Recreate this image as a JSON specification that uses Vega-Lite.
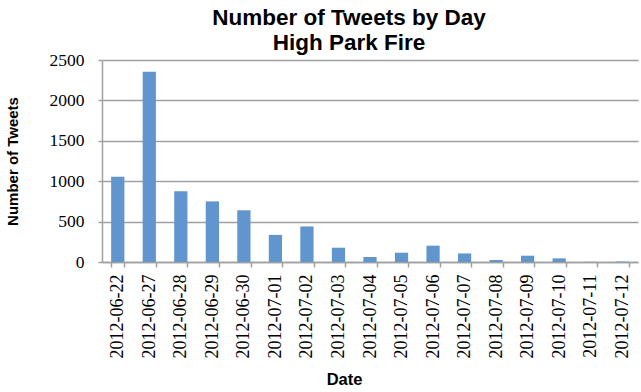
{
  "$schema": "https://vega.github.io/schema/vega-lite/v6.json",
  "autosize": {"type": "none"},
  "width": 536,
  "height": 202,
  "padding": {"left": 102, "top": 60, "right": 3, "bottom": 130},
  "background": "white",
  "config": {"view": {"stroke": null}},
  "title": {
    "text": ["Number of Tweets by Day", "High Park Fire"],
    "font": "Liberation Sans",
    "fontSize": 22.5,
    "fontWeight": "bold",
    "color": "black",
    "lineHeight": 25,
    "anchor": "middle",
    "dx": -21,
    "offset": -3
  },
  "data": {
    "values": [
      {"date": "2012-06-22", "tweets": 1055},
      {"date": "2012-06-27", "tweets": 2355},
      {"date": "2012-06-28", "tweets": 875},
      {"date": "2012-06-29", "tweets": 750},
      {"date": "2012-06-30", "tweets": 640},
      {"date": "2012-07-01", "tweets": 335},
      {"date": "2012-07-02", "tweets": 440},
      {"date": "2012-07-03", "tweets": 177},
      {"date": "2012-07-04", "tweets": 62},
      {"date": "2012-07-05", "tweets": 115},
      {"date": "2012-07-06", "tweets": 202},
      {"date": "2012-07-07", "tweets": 106},
      {"date": "2012-07-08", "tweets": 25},
      {"date": "2012-07-09", "tweets": 78},
      {"date": "2012-07-10", "tweets": 45},
      {"date": "2012-07-11", "tweets": 2},
      {"date": "2012-07-12", "tweets": 5}
    ]
  },
  "mark": {"type": "bar", "color": "#6096cd"},
  "encoding": {
    "x": {
      "field": "date",
      "type": "nominal",
      "sort": null,
      "title": "Date",
      "scale": {"paddingInner": 0.58, "paddingOuter": 0.29},
      "axis": {
        "labelAngle": -90,
        "labelFont": "Liberation Serif",
        "labelFontWeight": "normal",
        "labelFontSize": 18,
        "labelColor": "black",
        "labelPadding": 7,
        "tickBand": "extent",
        "tickSize": 5,
        "tickColor": "#a0a0a0",
        "tickWidth": 1.5,
        "domainColor": "#a0a0a0",
        "domainWidth": 1.5,
        "grid": false,
        "titleFont": "Liberation Sans",
        "titleFontSize": 16.5,
        "titleFontWeight": "bold",
        "titleColor": "black",
        "titlePadding": 14,
        "titleX": 242
      }
    },
    "y": {
      "field": "tweets",
      "type": "quantitative",
      "title": "Number of Tweets",
      "scale": {"domain": [0, 2500], "nice": false},
      "axis": {
        "values": [0, 500, 1000, 1500, 2000, 2500],
        "format": "d",
        "labelFont": "Liberation Serif",
        "labelFontWeight": "normal",
        "labelFontSize": 17.5,
        "labelColor": "black",
        "labelPadding": 14,
        "tickSize": 4,
        "tickColor": "#a0a0a0",
        "tickWidth": 1.5,
        "domainColor": "#a0a0a0",
        "domainWidth": 1.5,
        "grid": true,
        "gridColor": "#a0a0a0",
        "gridWidth": 1.5,
        "titleFont": "Liberation Sans",
        "titleFontSize": 15,
        "titleFontWeight": "bold",
        "titleColor": "black",
        "titlePadding": 29
      }
    }
  }
}
